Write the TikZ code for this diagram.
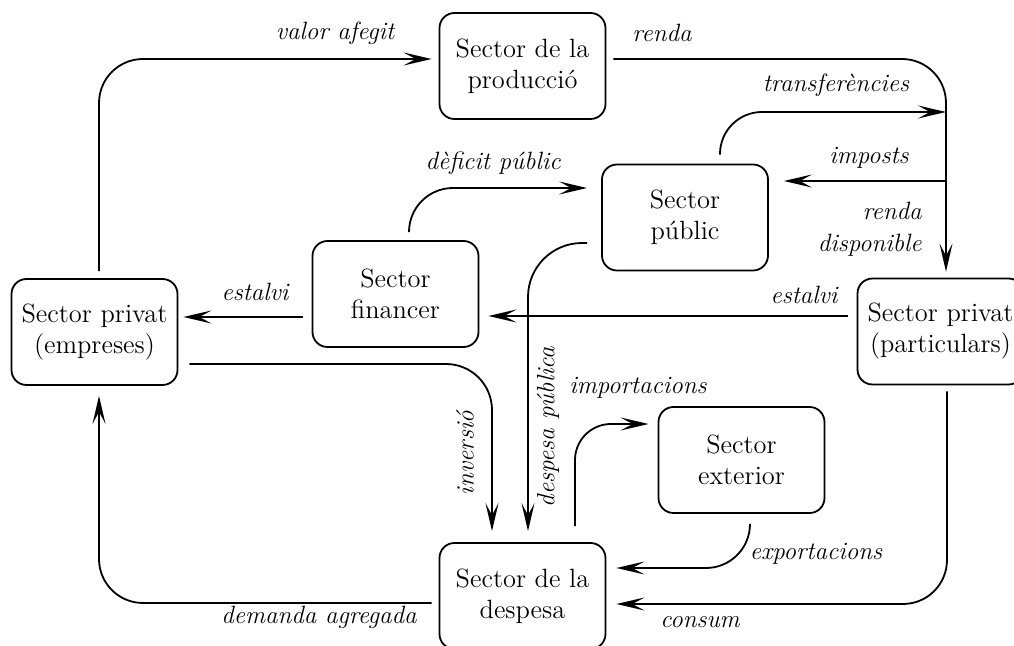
\documentclass[tikz,border=0pt]{standalone}
\usepackage{fontspec}
\usetikzlibrary{arrows.meta,calc}
\begin{document}
\begin{tikzpicture}[x=0.5pt,y=-0.5pt,
  box/.style={draw, line width=0.9pt, rounded corners=7.5pt, minimum width=83pt, minimum height=53pt, align=center, font=\fontsize{13.2}{15.5}\selectfont, inner sep=0pt},
  flow/.style={line width=0.9pt, rounded corners=22pt, -{Stealth[length=14pt,width=6.5pt,inset=6pt]}},
  lab/.style={font=\fontsize{12.5}{16}\selectfont\itshape, inner sep=0pt}]
\useasboundingbox (0,0) rectangle (1014,646);
\clip (0,0) rectangle (1014,646);
% boxes
\node[box] (prod) at (522.5,66) {Sector de la\\producció};
\node[box] (pub) at (685,217.5) {Sector\\públic};
\node[box] (fin) at (395.5,294) {Sector\\financer};
\node[box] (emp) at (94.5,332) {Sector privat\\(empreses)};
\node[box] (par) at (940.5,331.5) {Sector privat\\(particulars)};
\node[box] (ext) at (741.5,460) {Sector\\exterior};
\node[box] (desp) at (522.5,596) {Sector de la\\despesa};
% junctions on the renda line
\coordinate (jt) at (946,112);
\coordinate (ji) at (946,181);
% connectors
\draw[flow] ($(emp.north)+(4.5,-7)$) |- ($(prod.west)+(-7,-7)$);
\draw[flow] ($(prod.east)+(7,-7)$) -| ($(par.north)+(5.5,-6)$);
\draw[flow, rounded corners=21pt] ($(pub.north)+(35,-9)$) |- (jt);
\draw[flow] (ji) -- ($(pub.east)+(15,-36.5)$);
\draw[flow] ($(fin.north)+(13.5,-8)$) |- ($(pub.west)+(-14,-29.5)$);
\draw[flow, rounded corners=27pt] ($(pub.west)+(-14,25.5)$) -| ($(desp.north)+(5.5,-11)$);
\draw[flow] ($(par.west)+(-9,-15.5)$) -- ($(fin.east)+(9,22)$);
\draw[flow] ($(fin.west)+(-9,23)$) -- ($(emp.east)+(5,-15)$);
\draw[flow, rounded corners=23pt] ($(emp.east)+(11,32)$) -| ($(desp.north)+(-30.5,-11)$);
\draw[flow, rounded corners=18pt] ($(desp.north)+(52.5,-16)$) |- ($(ext.west)+(-9,-36)$);
\draw[flow] ($(ext.south)+(8.5,11)$) |- ($(desp.east)+(10,-28)$);
\draw[flow] ($(par.south)+(6.5,6)$) |- ($(desp.east)+(10,8)$);
\draw[flow] ($(desp.west)+(-7,7)$) -| ($(emp.south)+(4.5,10)$);
% labels
\node[lab] (l1) at (335,33) {valor afegit};
\node[lab] (l2) at (662,33) {renda};
\node[lab] (l3) at (836,85) {transferències};
\node[lab] (l4) at (869,158) {imposts};
\node[lab, align=right, anchor=east] (l5) at (922,229) {renda\\disponible};
\node[lab] (l6) at (493,163) {dèficit públic};
\node[lab] (l7) at (804,295) {estalvi};
\node[lab] (l8) at (255,292) {estalvi};
\node[lab, rotate=90] (l9) at (465,453) {inversió};
\node[lab, rotate=90] (l10) at (548,427) {despesa pública};
\node[lab] (l11) at (638,388) {importacions};
\node[lab] (l12) at (816,554) {exportacions};
\node[lab] (l13) at (700,622) {consum};
\node[lab] (l14) at (319,617) {demanda agregada};
\end{tikzpicture}
\end{document}
